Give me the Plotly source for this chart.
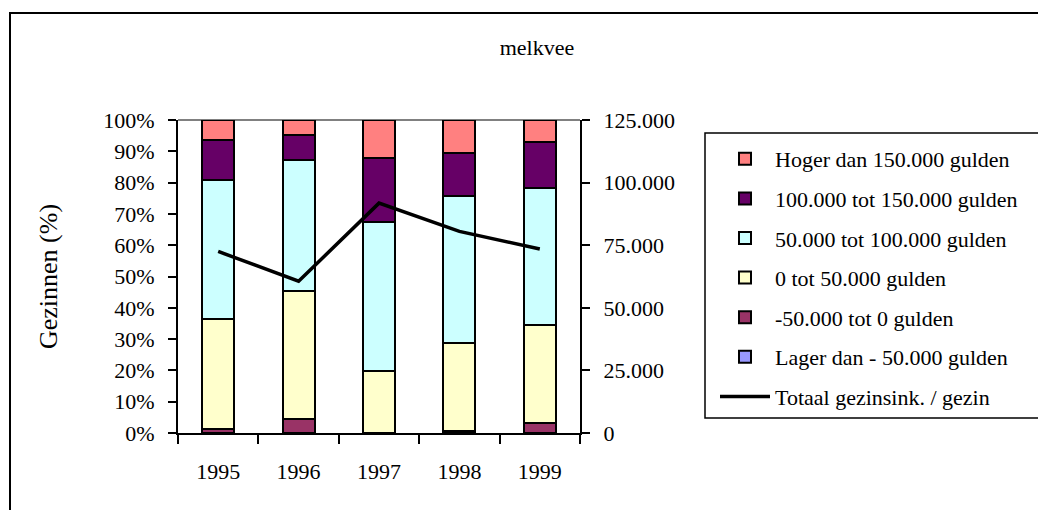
import plotly.graph_objects as go

years = ["1995", "1996", "1997", "1998", "1999"]

# percentage of families per income class
lager_dan_min50 = [0, 0, 0, 0, 0]
min50_tot_0 = [1.2, 4.5, 0, 0.6, 3.2]
nul_tot_50 = [35.1, 40.8, 19.8, 28.3, 31.3]
van_50_tot_100 = [44.6, 42.0, 47.6, 46.9, 43.7]
van_100_tot_150 = [12.7, 7.8, 20.6, 13.6, 14.9]
hoger_dan_150 = [6.4, 4.9, 12.0, 10.6, 6.9]

# total family income per family (gulden)
totaal_per_gezin = [72500, 60600, 91800, 80500, 73500]

series = [
    ("Lager dan - 50.000 gulden", lager_dan_min50, "#9999FF"),
    ("-50.000 tot 0 gulden", min50_tot_0, "#993366"),
    ("0 tot 50.000 gulden", nul_tot_50, "#FFFFCC"),
    ("50.000 tot 100.000 gulden", van_50_tot_100, "#CCFFFF"),
    ("100.000 tot 150.000 gulden", van_100_tot_150, "#660066"),
    ("Hoger dan 150.000 gulden", hoger_dan_150, "#FF8080"),
]

FONT = "Times New Roman, Liberation Serif, serif"
FS = 22

# page body has an 8px margin, so everything is placed 8px up/left
OFF = 8
L, T, R, B = 178 - OFF, 120 - OFF, 580 - OFF, 433 - OFF
W, H = 1046 - OFF, 510 - OFF
PW, PH = R - L, B - T


def px(x):
    return (x - OFF - L) / PW


def py(y):
    return 1 - (y - OFF - T) / PH


fig = go.Figure()

fig.add_trace(go.Scatter(x=years,
                         y=totaal_per_gezin,
                         mode='lines',
                         name="Totaal gezinsink. / gezin",
                         legendgroup="totaal",
                         legendrank=100,
                         line=dict(color='black', width=3.5),
                         yaxis='y2'
                         ))

for i, (name, vals, color) in enumerate(series):
    fig.add_trace(go.Bar(x=years,
                         y=vals,
                         name=name,
                         legendgroup=name,
                         legendrank=90 - i,
                         marker=dict(color=color,
                                     line=dict(color='black', width=2))
                         ))

fig.update_layout(
    width=W, height=H,
    margin=dict(l=L, r=W - R, t=T, b=H - B),
    paper_bgcolor='white',
    plot_bgcolor='white',
    barmode='stack',
    bargap=0.6,
    separators=",.",
    font=dict(family=FONT, size=FS, color='black'),
    title=dict(text="melkvee", x=(537 - OFF) / W, xref='container', xanchor='center',
               y=1 - (47 - OFF) / H, yref='container', yanchor='middle',
               font=dict(family=FONT, size=FS)),
    legend=dict(x=px(715), y=py(138), xanchor='left', yanchor='top',
                traceorder='grouped', tracegroupgap=8,
                itemwidth=50, font=dict(family=FONT, size=FS),
                bgcolor='rgba(0,0,0,0)'),
    showlegend=True,
)

fig.update_xaxes(type='category', showline=True, linecolor='black', linewidth=2,
                 ticks='outside', tickson='boundaries', ticklen=9, tickwidth=2,
                 tickcolor='black', ticklabelstandoff=18, showgrid=False)

fig.update_layout(
    yaxis=dict(range=[0, 100], tick0=0, dtick=10, ticksuffix='%',
               showline=True, linecolor='black', linewidth=2, ticks='outside',
               ticklen=8, tickwidth=2, tickcolor='black', ticklabelstandoff=9,
               showgrid=False, zeroline=False,
               title=dict(text="Gezinnen (%)", standoff=38)),
    yaxis2=dict(range=[0, 125000], tick0=0, dtick=25000,
                tickformat=',d', overlaying='y', side='right',
                showline=True, linecolor='black', linewidth=2, ticks='outside',
                ticklen=8, tickwidth=2, tickcolor='black', ticklabelstandoff=9,
                showgrid=False, zeroline=False),
)

# gray line at top of plot area, chart frame and legend frame
fig.add_shape(type='line', xref='paper', yref='paper', x0=0, x1=1, y0=1, y1=1,
              line=dict(color='#808080', width=2), layer='below')
fig.add_shape(type='rect', xref='paper', yref='paper',
              x0=px(10), x1=px(1070), y0=py(540), y1=py(13),
              line=dict(color='black', width=2))
fig.add_shape(type='rect', xref='paper', yref='paper',
              x0=px(705), x1=px(1040), y0=py(418), y1=py(133),
              line=dict(color='black', width=1.5))

fig.write_html("out.html")
